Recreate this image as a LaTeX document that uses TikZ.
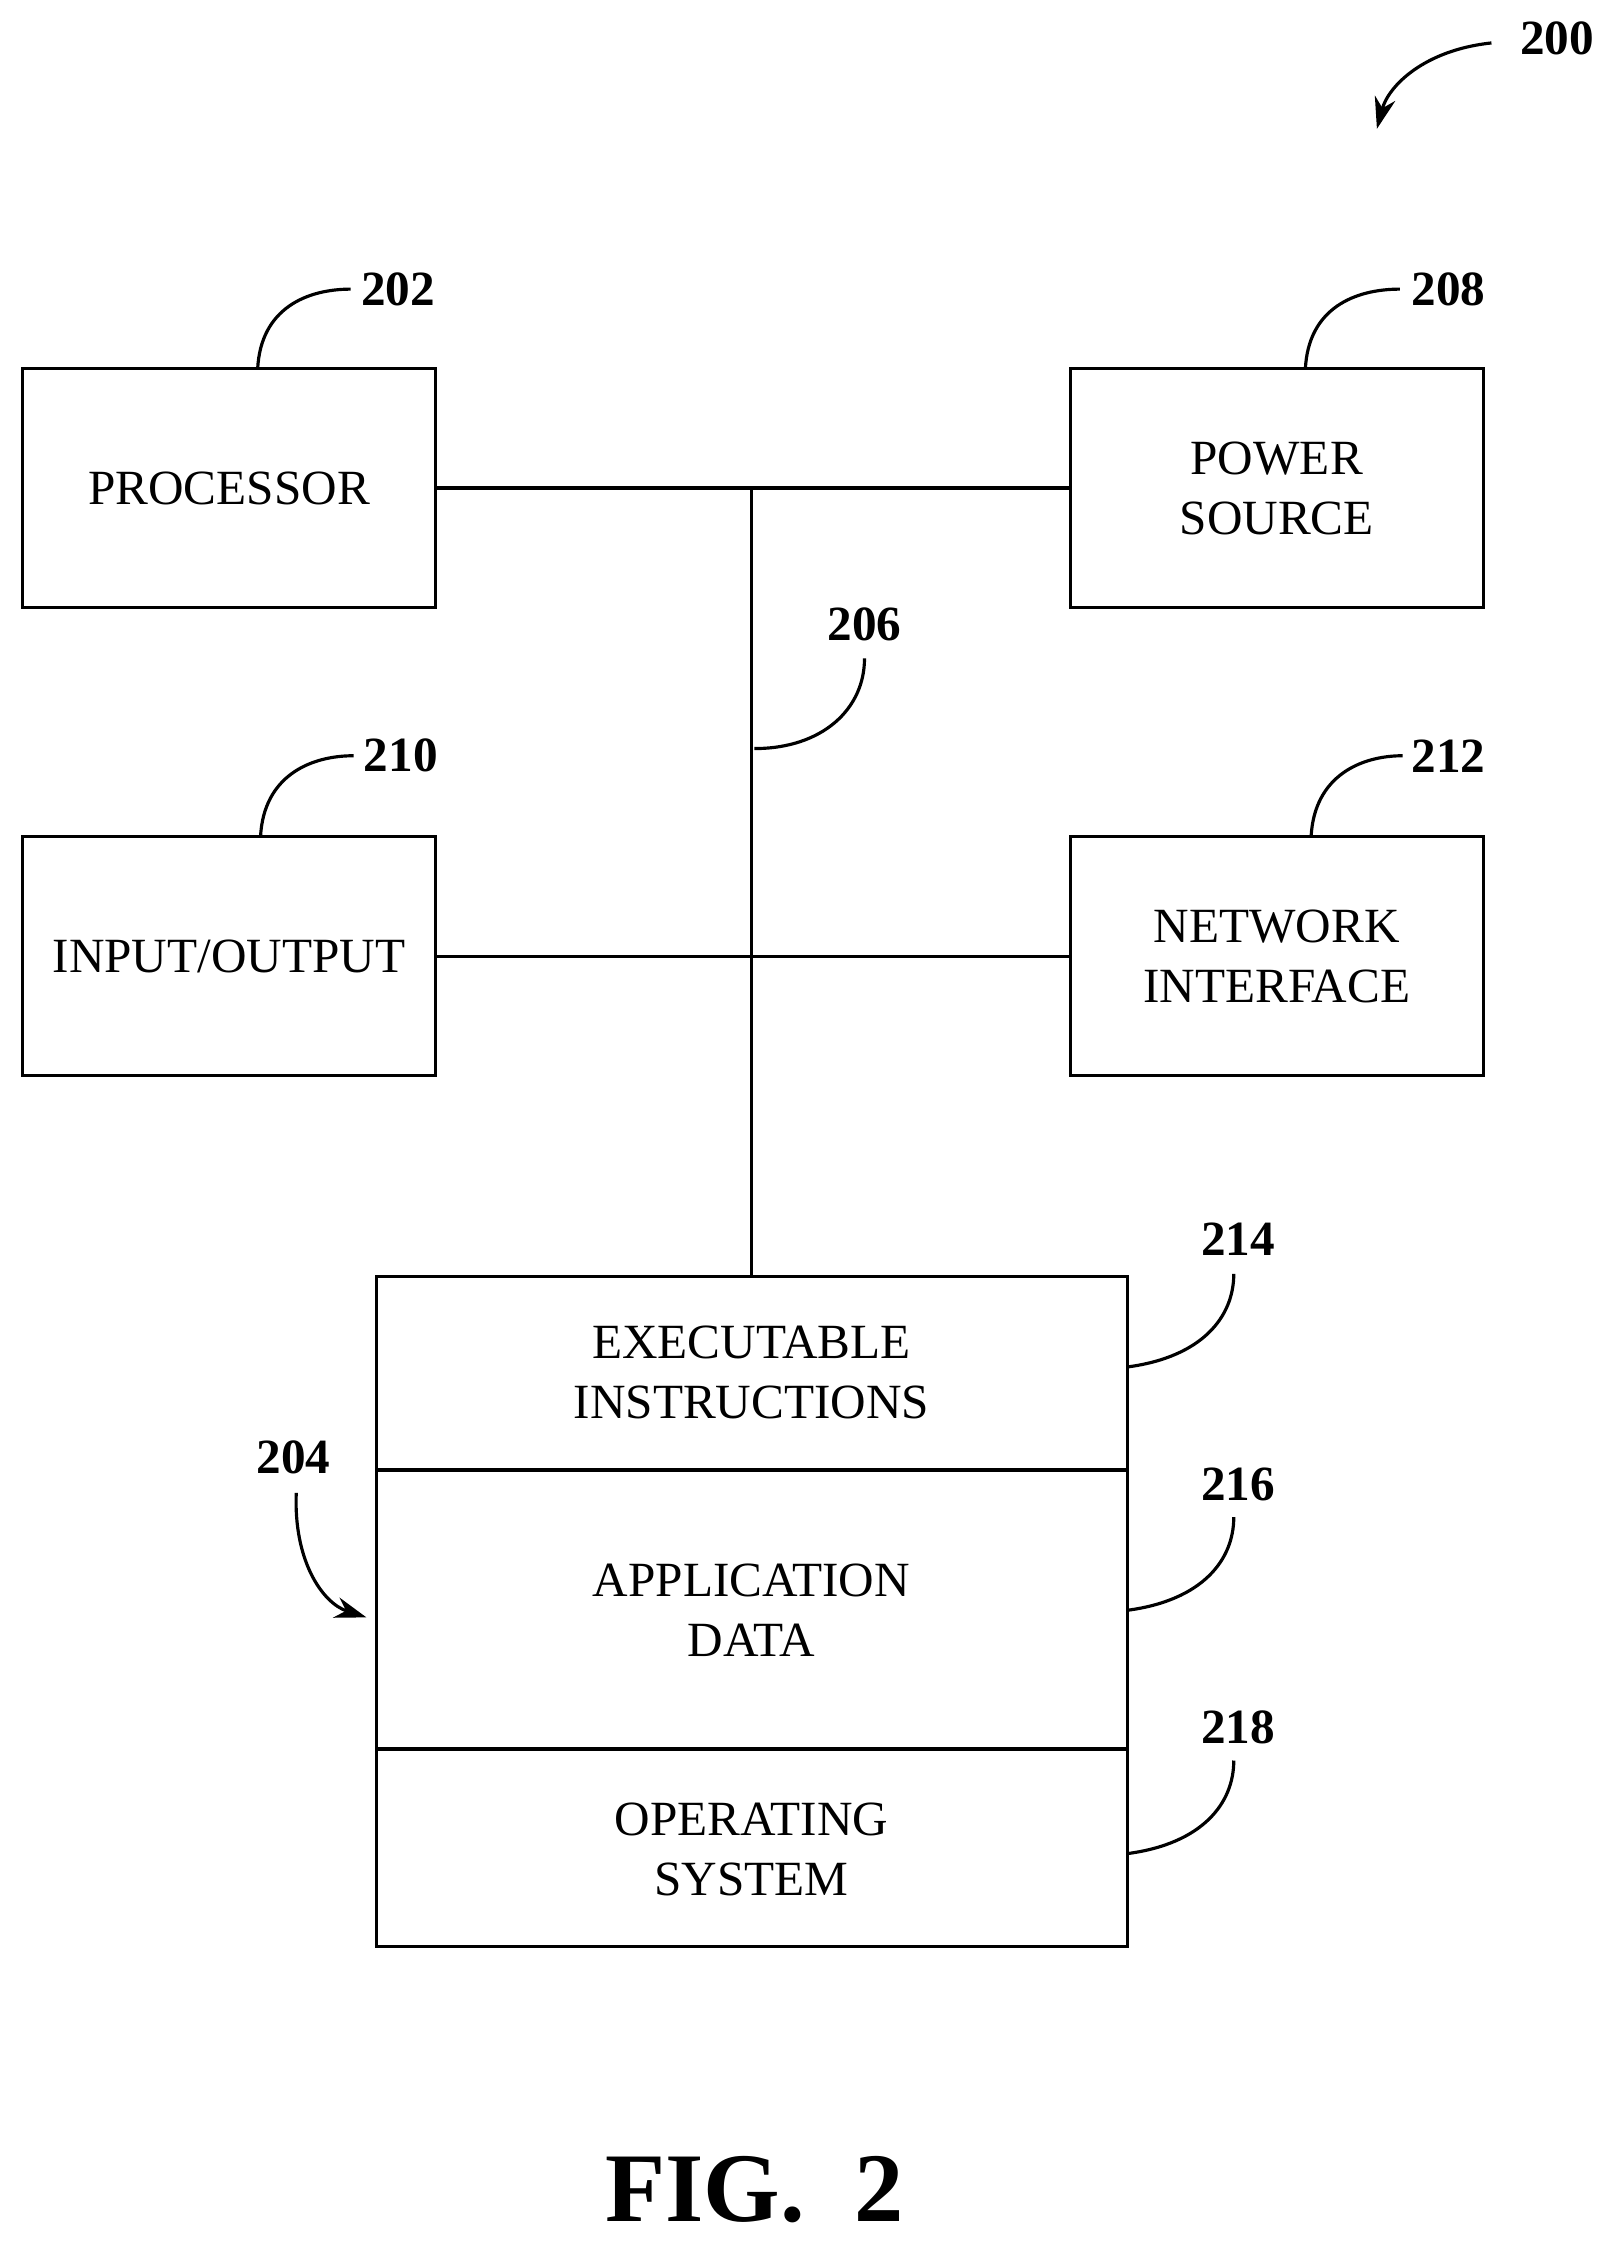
\documentclass[tikz,border=0pt]{standalone}
\usepackage{fontspec}
\setmainfont{Liberation Serif}
\usetikzlibrary{arrows.meta}
\tikzstyle{block} = [rectangle, draw=black, line width=0.9pt, minimum width=4.13cm,
                     minimum height=2.39cm, align=center, font=\fontsize{14}{17}\selectfont]
\tikzstyle{num} = [font=\bfseries\fontsize{14}{17}\selectfont]
\tikzstyle{lead} = [line width=0.9pt]
\tikzstyle{arrow} = [line width=0.9pt,-{Stealth[length=9pt,width=6pt]}]

\begin{document}
\begin{tikzpicture}[x=0.01431cm, y=-0.01431cm]
    \useasboundingbox (0,0) rectangle (1130,1572);

    \node (proc) [block] at (160,341) {PROCESSOR};
    \node (power) [block] at (892,341) {POWER\\SOURCE};
    \node (io) [block] at (160,668) {INPUT/OUTPUT};
    \node (net) [block] at (892,668) {NETWORK\\INTERFACE};

    % memory stack
    \draw [line width=0.9pt] (263,892) rectangle (788,1360);
    \draw [line width=0.9pt] (263,1027) -- (788,1027);
    \draw [line width=0.9pt] (263,1222) -- (788,1222);
    \node (exec) [font=\fontsize{14}{17}\selectfont, align=center] at (525,959) {EXECUTABLE\\INSTRUCTIONS};
    \node (app) [font=\fontsize{14}{17}\selectfont, align=center] at (525,1125) {APPLICATION\\DATA};
    \node (os) [font=\fontsize{14}{17}\selectfont, align=center] at (525,1292) {OPERATING\\SYSTEM};
    \coordinate (memtop) at (525,892);

    % bus
    \coordinate (bus1) at (525,341);
    \coordinate (bus2) at (525,668);
    \draw [lead] (proc.east) -- (power.west);
    \draw [lead] (io.east) -- (net.west);
    \draw [lead] (bus1) -- (memtop);

    % reference numerals
    \node (n200) [num] at (1088,27) {200};
    \node (n202) [num] at (278,202) {202};
    \node (n208) [num] at (1012,202) {208};
    \node (n206) [num] at (604,436) {206};
    \node (n210) [num] at (280,528) {210};
    \node (n212) [num] at (1012,528) {212};
    \node (n214) [num] at (865,866) {214};
    \node (n216) [num] at (865,1037) {216};
    \node (n218) [num] at (865,1207) {218};
    \node (n204) [num] at (205,1018) {204};

    \draw [arrow] (1042,30) .. controls (995,35) and (970,60) .. (962,90);
    \draw [lead] (180,258) .. controls (182,215) and (215,202) .. (245,202);
    \draw [lead] (912,258) .. controls (914,215) and (947,202) .. (978,202);
    \draw [lead] (182,585) .. controls (184,542) and (217,528) .. (247,528);
    \draw [lead] (916,585) .. controls (918,542) and (951,528) .. (980,528);
    \draw [lead] (527,523) .. controls (575,523) and (604,495) .. (604,460);
    \draw [lead] (788,955) .. controls (840,948) and (862,920) .. (862,890);
    \draw [lead] (788,1125) .. controls (840,1118) and (862,1090) .. (862,1060);
    \draw [lead] (788,1295) .. controls (840,1288) and (862,1260) .. (862,1230);
    \draw [arrow] (207,1043) .. controls (205,1090) and (225,1120) .. (256,1130);

    \node (fig) [font=\bfseries\fontsize{28}{34}\selectfont] at (527,1530) {FIG.\ \ 2};
\end{tikzpicture}
\end{document}
